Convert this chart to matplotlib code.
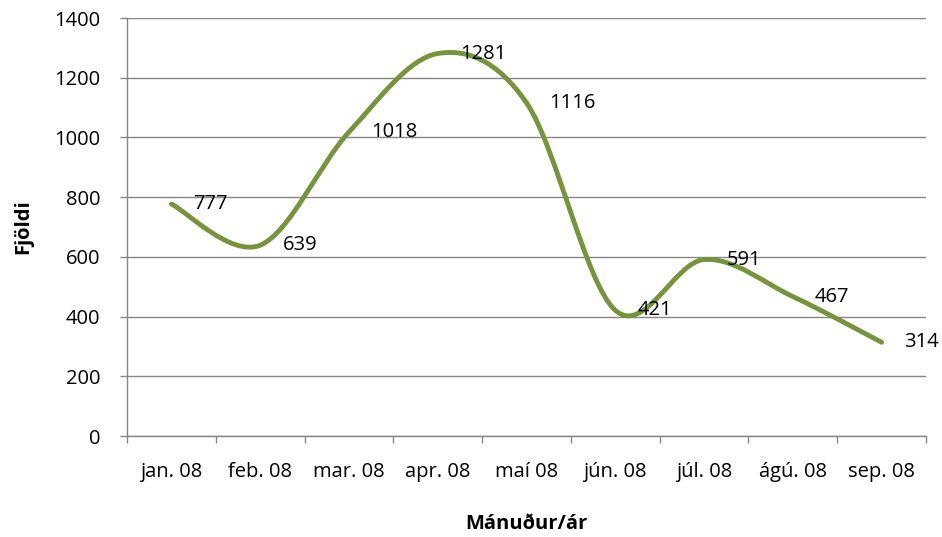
import numpy as np
import matplotlib
matplotlib.use('Agg')
import matplotlib.pyplot as plt
from matplotlib.path import Path
from matplotlib.patches import PathPatch

months = ['jan. 08', 'feb. 08', 'mar. 08', 'apr. 08', 'maí 08',
          'jún. 08', 'júl. 08', 'ágú. 08', 'sep. 08']
counts = [777, 639, 1018, 1281, 1116, 421, 591, 467, 314]
yticks = [0, 200, 400, 600, 800, 1000, 1200, 1400]

plt.rcParams['font.family'] = ['Open Sans', 'DejaVu Sans']
green = '#77933C'
grey = '#868686'

fig = plt.figure(figsize=(9.42, 5.37), dpi=100)
ax = fig.add_axes([127 / 942, 101 / 537, 799 / 942, 418 / 537])

x = np.arange(len(counts), dtype=float)
y = np.array(counts, dtype=float)

# excel-style smoothed line: catmull-rom turned into cubic bezier segments
verts = [(x[0], y[0])]
codes = [Path.MOVETO]
n = len(x)
for i in range(n - 1):
    p0 = np.array([x[max(i - 1, 0)], y[max(i - 1, 0)]])
    p1 = np.array([x[i], y[i]])
    p2 = np.array([x[i + 1], y[i + 1]])
    p3 = np.array([x[min(i + 2, n - 1)], y[min(i + 2, n - 1)]])
    c1 = p1 + (p2 - p0) / 6.0
    c2 = p2 - (p3 - p1) / 6.0
    verts += [tuple(c1), tuple(c2), tuple(p2)]
    codes += [Path.CURVE4] * 3
ax.add_patch(PathPatch(Path(verts, codes), facecolor='none', edgecolor=green,
                       lw=3.5, capstyle='round', joinstyle='round', zorder=3))

for xi, yi in zip(x, y):
    ax.annotate(str(int(yi)), (xi, yi), xytext=(16, 0), textcoords='offset points',
                ha='left', va='center', fontsize=14.5, color='black', zorder=4)

ax.set_xlim(-0.5, n - 0.5)
ax.set_ylim(0, 1400)
ax.set_yticks(yticks)
ax.set_yticklabels([str(v) for v in yticks], fontsize=14.5)
ax.set_xticks(x)
ax.set_xticklabels(months, fontsize=14.5)
ax.set_xticks(np.arange(-0.5, n, 1.0), minor=True)
ax.tick_params(axis='x', which='major', length=0, pad=19)
ax.tick_params(axis='x', which='minor', length=5, color=grey, width=1)
ax.tick_params(axis='y', length=5, color=grey, width=1, pad=14)

ax.yaxis.grid(True, color=grey, lw=1)
ax.set_axisbelow(True)
for s in ['top', 'right']:
    ax.spines[s].set_visible(False)
for s in ['left', 'bottom']:
    ax.spines[s].set_color(grey)
    ax.spines[s].set_linewidth(1)

ax.set_ylabel('Fjöldi', fontsize=14.5, fontweight='bold', labelpad=15)
ax.set_xlabel('Mánuður/ár', fontsize=14.5, fontweight='bold', labelpad=23)

fig.savefig('out.png', dpi=100)
